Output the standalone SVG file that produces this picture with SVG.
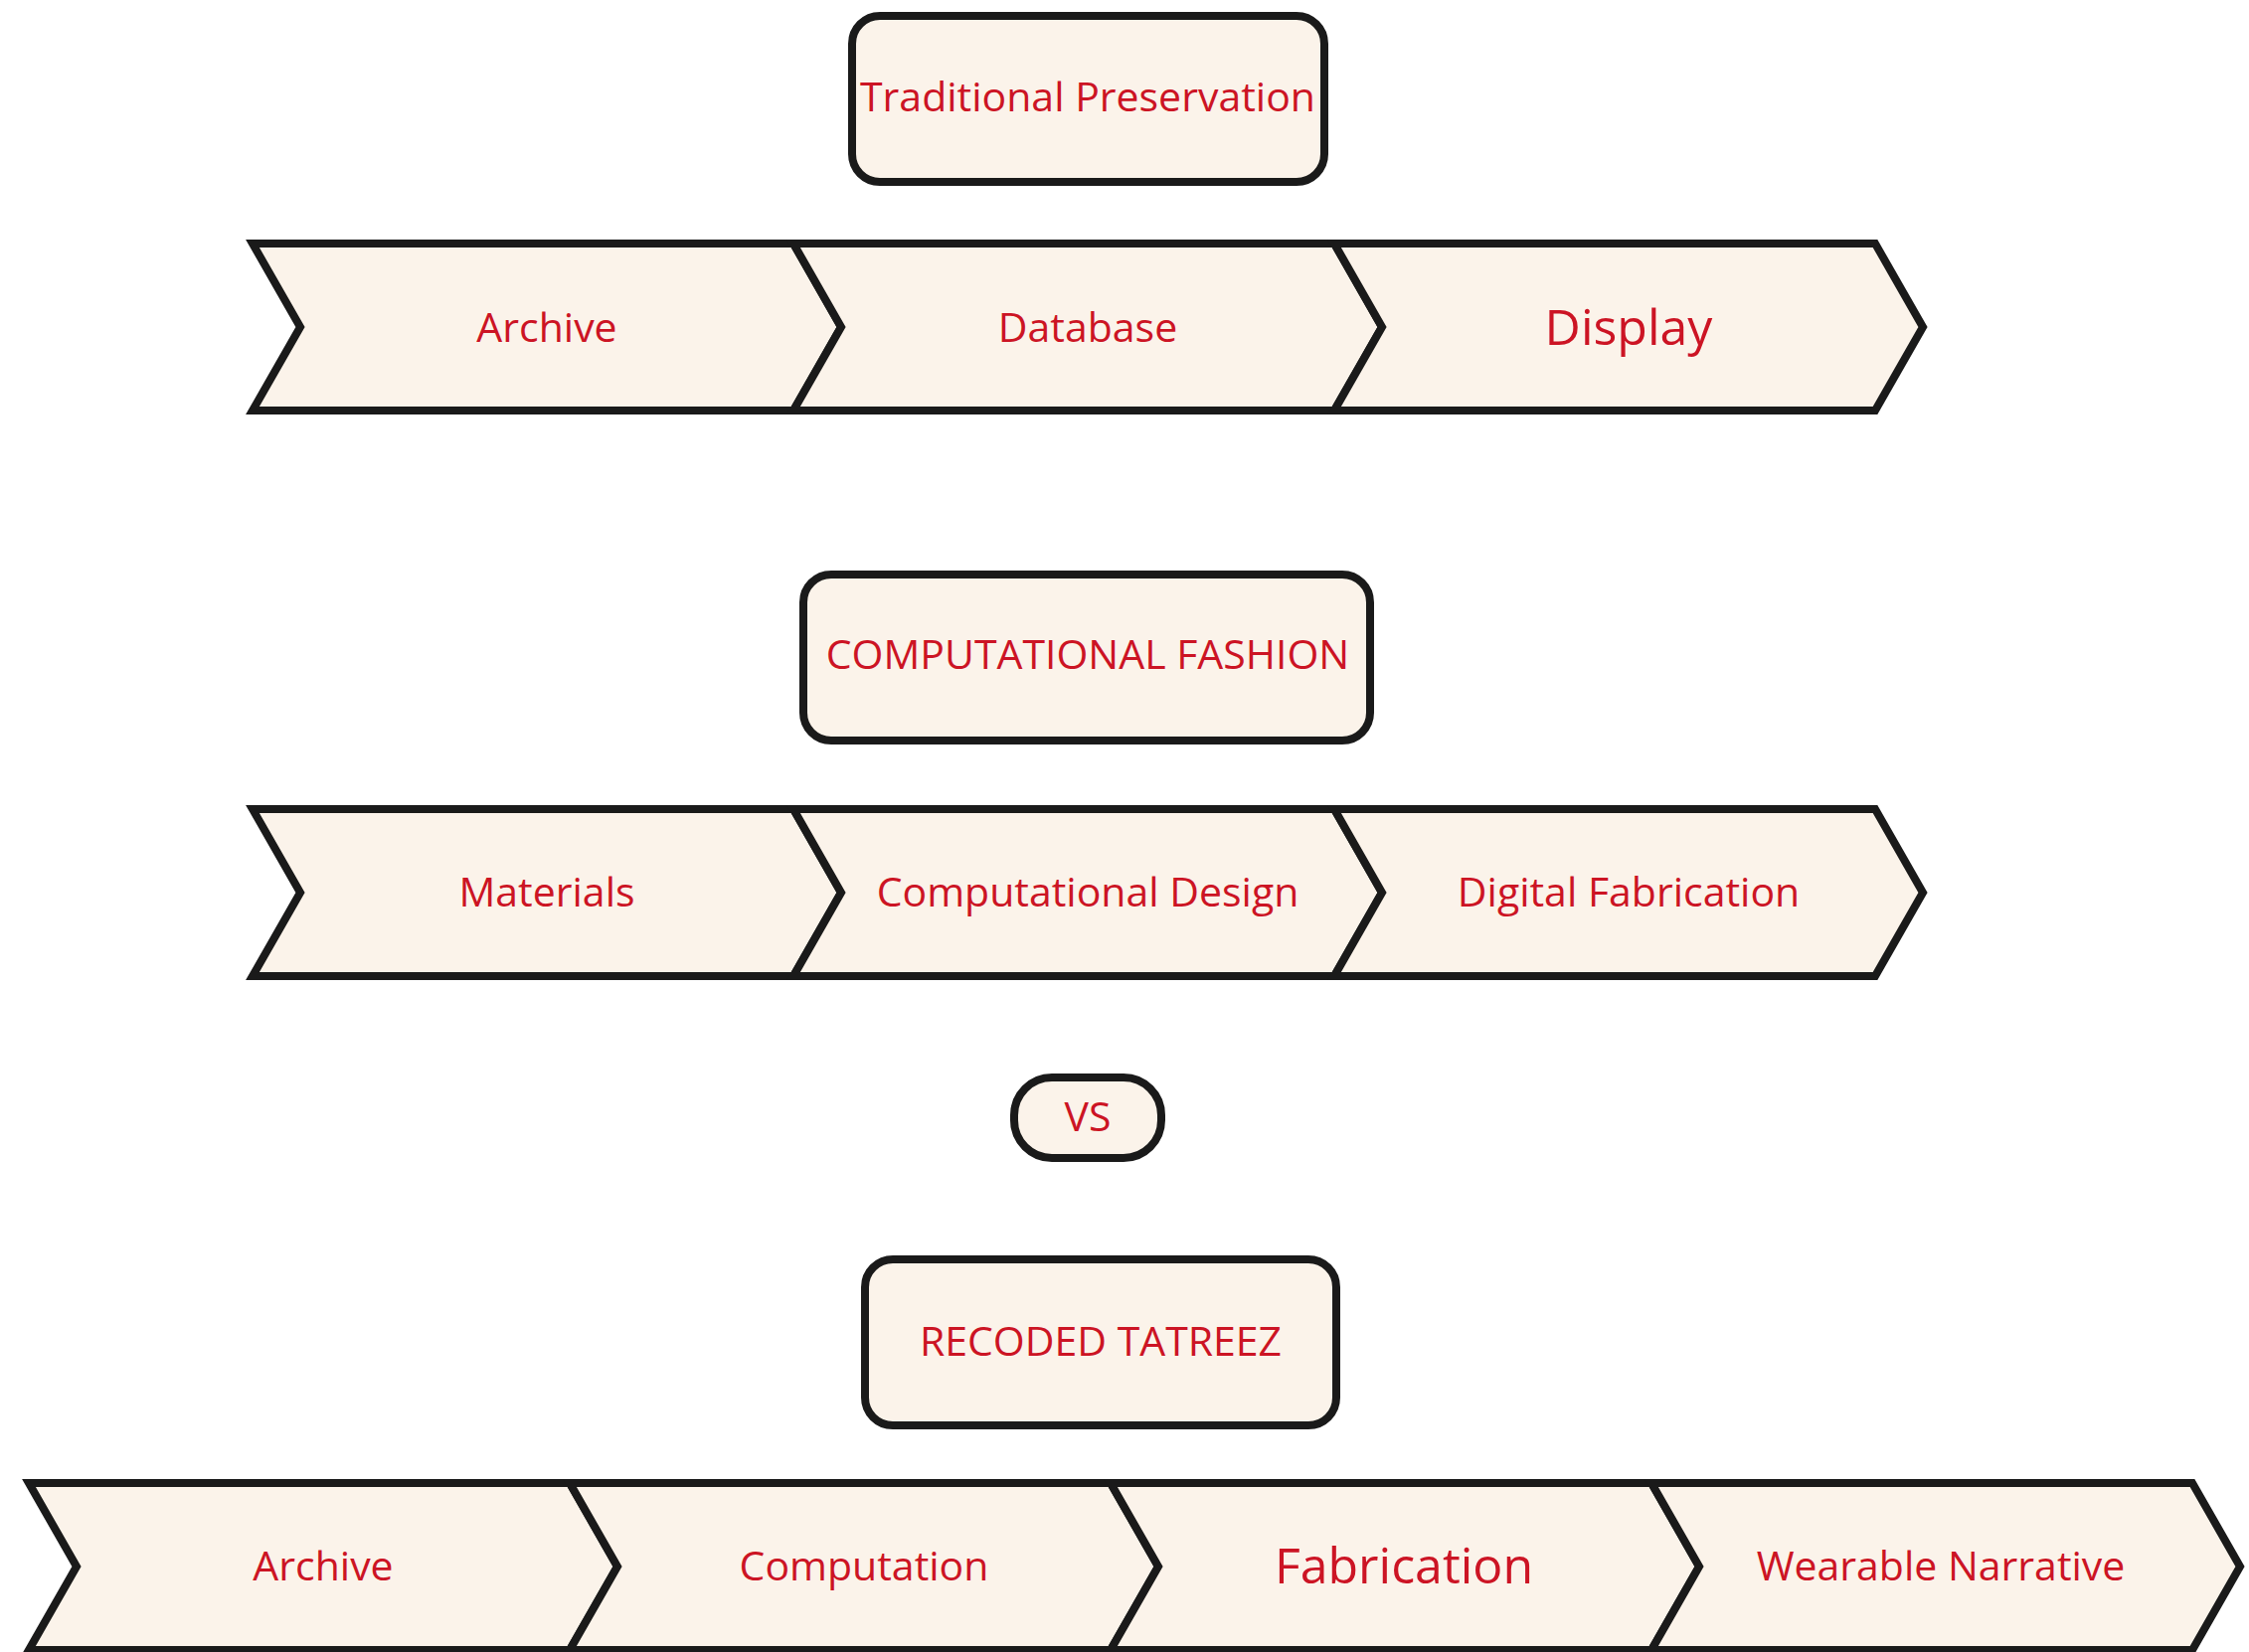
<svg xmlns="http://www.w3.org/2000/svg" width="2262" height="1662" viewBox="0 0 2262 1662">
<style>
.box{fill:#fbf3ea;stroke:#1a1a1a;stroke-width:8;stroke-linejoin:round}
.chev{fill:#fbf3ea;stroke:#1a1a1a;stroke-width:8;stroke-linejoin:miter}
text{font-family:"Open Sans","Noto Sans","Liberation Sans",sans-serif;font-size:41px;fill:#cc1424;text-anchor:middle}
.big{font-size:50px}
</style>
<defs>
<path id="chv" d="M0,0 L544,0 L592,84 L544,168 L0,168 L48,84 Z"/>
</defs>
<rect width="2262" height="1662" fill="#ffffff"/>
<g id="connectors"></g>
<g id="traditional-preservation"><rect class="box" x="857" y="16" width="475" height="167" rx="28"/><text x="1094" y="112">Traditional Preservation</text></g>
<g id="tp-archive"><use href="#chv" class="chev" x="254" y="245"/><text x="550" y="344">Archive</text></g>
<g id="tp-database"><use href="#chv" class="chev" x="798" y="245"/><text x="1094" y="344">Database</text></g>
<g id="tp-display"><use href="#chv" class="chev" x="1342" y="245"/><text class="big" x="1638" y="347">Display</text></g>
<g id="computational-fashion"><rect class="box" x="808" y="578" width="570" height="167" rx="28"/><text x="1094" y="673">COMPUTATIONAL FASHION</text></g>
<g id="cf-materials"><use href="#chv" class="chev" x="254" y="814"/><text x="550" y="912">Materials</text></g>
<g id="cf-computational-design"><use href="#chv" class="chev" x="798" y="814"/><text x="1094" y="912">Computational Design</text></g>
<g id="cf-digital-fabrication"><use href="#chv" class="chev" x="1342" y="814"/><text x="1638" y="912">Digital Fabrication</text></g>
<g id="vs"><rect class="box" x="1020" y="1084" width="148" height="81" rx="38"/><text x="1094" y="1138">VS</text></g>
<g id="recoded-tatreez"><rect class="box" x="870" y="1267" width="474" height="167" rx="28"/><text x="1107" y="1364">RECODED TATREEZ</text></g>
<g id="rt-archive"><use href="#chv" class="chev" x="29" y="1492"/><text x="325" y="1590">Archive</text></g>
<g id="rt-computation"><use href="#chv" class="chev" x="573" y="1492"/><text x="869" y="1590">Computation</text></g>
<g id="rt-fabrication"><use href="#chv" class="chev" x="1117" y="1492"/><text class="big" x="1412" y="1593">Fabrication</text></g>
<g id="rt-wearable-narrative"><use href="#chv" class="chev" x="1661" y="1492"/><text x="1952" y="1590">Wearable Narrative</text></g>
</svg>
